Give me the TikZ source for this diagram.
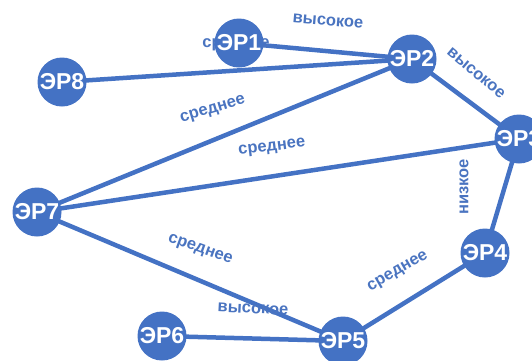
\documentclass[tikz,border=0pt]{standalone}
\usepackage{fontspec}
\setmainfont{Liberation Sans}
\definecolor{erblue}{HTML}{4472C4}
\definecolor{lblblue}{HTML}{4A74C0}
\begin{document}
\begin{tikzpicture}[x=1pt,y=-1pt,
  er/.style={circle,fill=erblue,minimum size=49pt,inner sep=0pt,
    text=white,font=\fontsize{23}{23}\selectfont\bfseries},
  link/.style={draw=erblue,line width=4.5pt},
  lbl/.style={text=lblblue,font=\fontsize{16.5}{17}\selectfont\bfseries,inner sep=1pt}]
\useasboundingbox (0,0) rectangle (532,360);
% node positions
\coordinate (p1) at (239,43);
\coordinate (p2) at (412,59);
\coordinate (p3) at (519,139);
\coordinate (p4) at (485,253);
\coordinate (p5) at (343,341);
\coordinate (p6) at (162,336);
\coordinate (p7) at (37,212);
\coordinate (p8) at (62,82);
% connections
\draw[link] (p1) -- (p2);
\draw[link] (p8) -- (p2);
\draw[link] (p7) -- (p2);
\draw[link] (p7) -- (p3);
\draw[link] (p2) -- (p3);
\draw[link] (p3) -- (p4);
\draw[link] (p4) -- (p5);
\draw[link] (p7) -- (p5);
\draw[link] (p6) -- (p5);
% edge labels
\node[lbl,rotate=-5] (l12) at (328,21) {высокое};
\node[lbl] (l82) at (236,45) {среднее};
\node[lbl,rotate=-40] (l23) at (476,73) {высокое};
\node[lbl,rotate=17] (l72) at (213,110) {среднее};
\node[lbl,rotate=7] (l73) at (272,148) {среднее};
\node[lbl,rotate=90] (l34) at (464,187) {низкое};
\node[lbl,rotate=-20] (l75) at (200,250) {среднее};
\node[lbl,rotate=-3] (l65) at (253,309) {высокое};
\node[lbl,rotate=30] (l45) at (398,272) {среднее};
% nodes
\node[er] (n1) at (p1) {ЭР1};
\node[er] (n2) at (p2) {ЭР2};
\node[er] (n3) at (p3) {ЭР3};
\node[er] (n4) at (p4) {ЭР4};
\node[er] (n5) at (p5) {ЭР5};
\node[er] (n6) at (p6) {ЭР6};
\node[er] (n7) at (p7) {ЭР7};
\node[er] (n8) at (p8) {ЭР8};
\end{tikzpicture}
\end{document}
